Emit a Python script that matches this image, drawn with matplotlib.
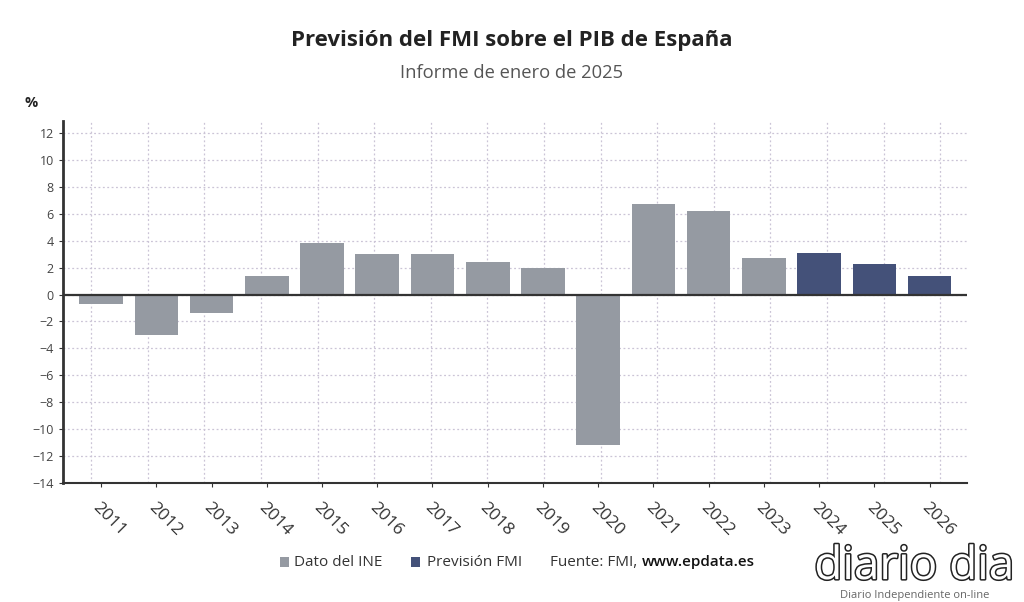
import matplotlib
matplotlib.use("Agg")
import matplotlib.pyplot as plt
import matplotlib.patheffects as pe
from matplotlib.patches import Rectangle
import numpy as np

plt.rcParams['font.family'] = ['Open Sans', 'DejaVu Sans']

years = ['2011', '2012', '2013', '2014', '2015', '2016', '2017', '2018',
         '2019', '2020', '2021', '2022', '2023', '2024', '2025', '2026']
values = [-0.7, -3.0, -1.4, 1.4, 3.8, 3.0, 3.0, 2.4,
          2.0, -11.2, 6.7, 6.2, 2.7, 3.1, 2.3, 1.4]
is_forecast = [False] * 13 + [True] * 3

c_ine = '#959aa2'
c_fmi = '#445179'

fig = plt.figure(figsize=(10.24, 6.02), dpi=100)
ax = fig.add_axes([0.0615, 0.198, 0.883, 0.601])

x = np.arange(len(years))
colors = [c_fmi if f else c_ine for f in is_forecast]
ax.bar(x, values, width=0.79, color=colors, zorder=3)

ax.set_xlim(-0.69, 15.68)
ax.set_ylim(-14, 12.9)
ax.set_yticks(np.arange(-14, 13, 2))
ax.set_yticklabels([str(v).replace('-', '\u2212') for v in range(-14, 13, 2)])
ax.set_xticks(x)
ax.set_xticklabels(years, rotation=-45, ha='left', rotation_mode='anchor',
                   fontsize=12.5, color='#333333')
# vertical grid lines sit slightly off the bar centres in the original
ax.set_xticks(np.linspace(-0.18, 15.19, 16), minor=True)
ax.tick_params(axis='x', which='minor', length=0)
ax.tick_params(axis='x', which='major', length=3, color='#333333', pad=9)
ax.tick_params(axis='y', length=3, color='#333333', labelsize=9, labelcolor='#444444')

ax.grid(axis='y', which='major', color='#cbc4d6', linestyle=(0, (1.5, 2)), linewidth=0.9, zorder=0)
ax.grid(axis='x', which='minor', color='#cbc4d6', linestyle=(0, (1.5, 2)), linewidth=0.9, zorder=0)

ax.axhline(0, color='#333333', linewidth=1.6, zorder=4)
for s in ['top', 'right']:
    ax.spines[s].set_visible(False)
ax.spines['left'].set_color('#333333')
ax.spines['left'].set_linewidth(2)
ax.spines['bottom'].set_color('#333333')
ax.spines['bottom'].set_linewidth(1.5)
ax.spines['bottom'].set_linestyle((0, (1.5, 1)))

fig.text(0.5, 0.932, 'Previsión del FMI sobre el PIB de España', ha='center', va='center',
         fontsize=16, fontweight='bold', color='#222222')
fig.text(0.5, 0.878, 'Informe de enero de 2025', ha='center', va='center',
         fontsize=13.2, color='#555555')
fig.text(0.024, 0.829, '%', ha='left', va='center', fontsize=10.5, fontweight='bold', color='#222222')

# legend / source line
ly = 0.066
fig.add_artist(Rectangle((0.2735, ly - 0.0085), 0.0085, 0.0165, transform=fig.transFigure,
                         color=c_ine, linewidth=0))
fig.text(0.2875, ly, 'Dato del INE', ha='left', va='center', fontsize=11, color='#333333')
fig.add_artist(Rectangle((0.4015, ly - 0.0085), 0.0085, 0.0165, transform=fig.transFigure,
                         color=c_fmi, linewidth=0))
fig.text(0.417, ly, 'Previsión FMI', ha='left', va='center', fontsize=11, color='#333333')
fig.text(0.537, ly, 'Fuente: FMI,', ha='left', va='center', fontsize=11, color='#333333')
fig.text(0.627, ly, 'www.epdata.es', ha='left', va='center', fontsize=11, color='#111111',
         fontweight='semibold')

# watermark
fig.text(0.893, 0.058, 'diario dia', ha='center', va='center', fontsize=33, color='white',
         path_effects=[pe.withStroke(linewidth=2.2, foreground='#222222')])
fig.text(0.893, 0.01, 'Diario Independiente on-line', ha='center', va='center',
         fontsize=8, color='#666666')

fig.savefig('out.png', dpi=100)
